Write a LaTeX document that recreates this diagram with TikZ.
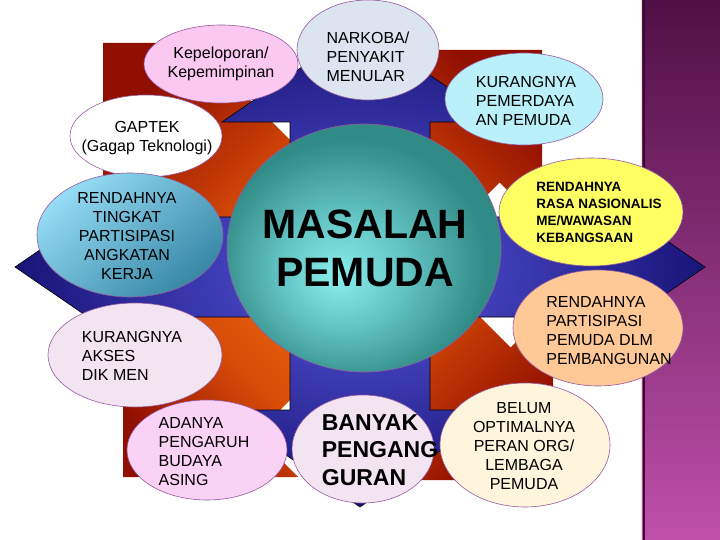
\documentclass[tikz,border=0pt]{standalone}
\usepackage{fontspec}
\setmainfont{Liberation Sans}
\usetikzlibrary{shapes.geometric}

\definecolor{plumtop}{RGB}{80,15,70}
\definecolor{plumbot}{RGB}{190,80,170}
\definecolor{rusttip}{RGB}{145,15,0}
\definecolor{rustmid}{RGB}{215,75,8}
\definecolor{rustend}{RGB}{235,105,12}
\definecolor{navyout}{RGB}{25,20,120}
\definecolor{navyin}{RGB}{90,90,225}
\definecolor{rimline}{RGB}{150,90,160}
\definecolor{pinkfill}{RGB}{250,200,240}
\definecolor{mistfill}{RGB}{220,228,240}
\definecolor{icefill}{RGB}{185,240,250}
\definecolor{skyhi}{RGB}{150,220,245}
\definecolor{skylo}{RGB}{55,135,165}
\definecolor{lilacfill}{RGB}{242,228,240}
\definecolor{rosefill}{RGB}{250,210,245}
\definecolor{creamfill}{RGB}{255,244,220}
\definecolor{lemonfill}{RGB}{255,255,100}
\definecolor{peachfill}{RGB}{255,200,150}

\pgfdeclareradialshading{tealball}{\pgfpoint{-5bp}{-6bp}}{rgb(0bp)=(0.55,0.93,0.93); rgb(12bp)=(0.38,0.76,0.76); rgb(25bp)=(0.19,0.54,0.52); rgb(50bp)=(0.19,0.54,0.52)}

\begin{document}
\begin{tikzpicture}[x=1pt,y=-1pt,
    bubble/.style={ellipse, draw=rimline, line width=0.6pt, inner sep=0pt},
    rust/.style={top color=rusttip, bottom color=rustend, middle color=rustmid},
    txt/.style={inner sep=0pt, font=\fontsize{16}{19}\selectfont},
    boldtxt/.style={inner sep=0pt, font=\fontsize{13.5}{17}\selectfont\bfseries}]
    \useasboundingbox (0,0) rectangle (720,540);
    \fill[white] (0,0) rectangle (720,540);

    % Purple strip on the right
    \shade[top color=plumtop, bottom color=plumbot] (641,0) rectangle (720,540);
    \draw[pink!60!white, line width=1pt] (641,0) -- (641,540);
    \draw[plumtop!70!black, line width=2pt] (644,0) -- (644,540);

    % Diagonal arrows in the four corners
    \shade[rust, shading angle=45]
        (103,43) -- (278,43) -- (235.5,85.5) -- (420,270) -- (330,360) -- (145.5,175.5) -- (103,218) -- cycle;
    \shade[rust, shading angle=-45]
        (542,50) -- (367,50) -- (409.5,92.5) -- (251,251) -- (341,341) -- (499.5,182.5) -- (542,225) -- cycle;
    \shade[rust, shading angle=135]
        (123,477) -- (123,302) -- (165.5,344.5) -- (255,255) -- (345,345) -- (255.5,434.5) -- (298,477) -- cycle;
    \shade[rust, shading angle=-135]
        (553,480) -- (553,305) -- (510.5,347.5) -- (351.5,188.5) -- (261.5,278.5) -- (420.5,437.5) -- (378,480) -- cycle;

    % Four-way arrow
    \shade[inner color=navyin, outer color=navyout, draw=black, line width=0.6pt]
        (360,27) -- (498,122) -- (430,122) -- (430,217) -- (600,217) -- (600,195) -- (705,267)
        -- (600,339) -- (600,317) -- (430,317) -- (430,410) -- (498,410) -- (360,507)
        -- (222,410) -- (290,410) -- (290,317) -- (120,317) -- (120,339) -- (15,267)
        -- (120,195) -- (120,217) -- (290,217) -- (290,122) -- (222,122) -- cycle;

    % Centre ball
    \shade[shading=tealball, draw=rimline, line width=0.6pt] (364,248) ellipse (137 and 124);
    \node[inner sep=0pt, font=\fontsize{41}{48}\selectfont\bfseries, align=center] (masalah) at (365,248) {MASALAH\\PEMUDA};

    % Bubbles
    \node[bubble, fill=pinkfill, minimum width=154pt, minimum height=78pt] (kepel) at (221,64) {};
    \node[bubble, fill=mistfill, minimum width=142pt, minimum height=100pt] (narkoba) at (368,50) {};
    \node[bubble, fill=icefill, minimum width=158pt, minimum height=92pt] (pemer) at (524,99) {};
    \node[bubble, fill=white, minimum width=152pt, minimum height=82pt] (gaptek) at (146,136) {};
    \node[bubble, top color=skyhi, bottom color=skylo, shading angle=40, minimum width=186pt, minimum height=124pt] (tingkat) at (130,235) {};
    \node[bubble, fill=lilacfill, minimum width=174pt, minimum height=104pt] (akses) at (135,355) {};
    \node[bubble, fill=rosefill, minimum width=160pt, minimum height=100pt] (budaya) at (207,450) {};
    \node[bubble, fill=lilacfill, minimum width=142pt, minimum height=108pt] (nganggur) at (363,449) {};
    \node[bubble, fill=creamfill, minimum width=170pt, minimum height=124pt] (belum) at (525,445) {};
    \node[bubble, fill=lemonfill, minimum width=184pt, minimum height=108pt] (nasional) at (591,212) {};
    \node[bubble, fill=peachfill, minimum width=170pt, minimum height=116pt] (bangun) at (598,328) {};

    % Texts
    \node[txt, align=center] (kepeltxt) at (221,64) {Kepeloporan/\\Kepemimpinan};
    \node[txt, align=left] (narkobatxt) at (368,57) {NARKOBA/\\PENYAKIT\\MENULAR};
    \node[txt, align=left] (pemertxt) at (526,101) {KURANGNYA\\PEMERDAYA\\AN PEMUDA};
    \node[txt, align=center] (gaptektxt) at (147,138) {GAPTEK\\(Gagap Teknologi)};
    \node[txt, align=center] (tingkattxt) at (127,236) {RENDAHNYA\\TINGKAT\\PARTISIPASI\\ANGKATAN\\KERJA};
    \node[txt, align=left] (aksestxt) at (132,356) {KURANGNYA\\AKSES\\DIK MEN};
    \node[txt, align=left] (budayatxt) at (204,452) {ADANYA\\PENGARUH\\BUDAYA\\ASING};
    \node[inner sep=0pt, font=\fontsize{23}{27.5}\selectfont\bfseries, align=left] (nganggurtxt) at (380,450) {BANYAK\\PENGANG\\GURAN};
    \node[txt, align=center] (belumtxt) at (524,446) {BELUM\\OPTIMALNYA\\PERAN ORG/\\LEMBAGA\\PEMUDA};
    \node[boldtxt, align=left] (nasionaltxt) at (599,212) {RENDAHNYA\\RASA NASIONALIS\\ME/WAWASAN\\KEBANGSAAN};
    \node[txt, align=left] (bangunTxt) at (609,331) {RENDAHNYA\\PARTISIPASI\\PEMUDA DLM\\PEMBANGUNAN};
\end{tikzpicture}
\end{document}
